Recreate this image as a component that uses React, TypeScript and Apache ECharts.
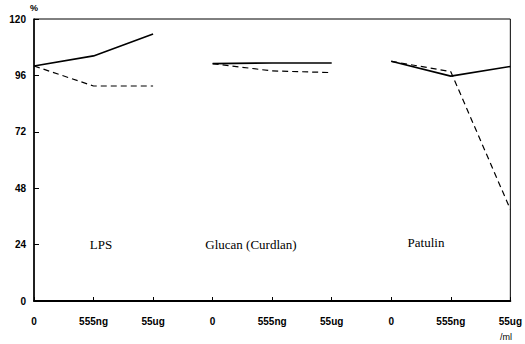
import React, { useEffect, useRef } from "react";
import * as echarts from "echarts";

const categories = ["0", "555ng", "55ug", "0 ", "555ng ", "55ug ", "0  ", "555ng  ", "55ug  "];
const yTicks = [0, 24, 48, 72, 96, 120];
const lpsSolid = [100, 104.3, 113.6, null, null, null, null, null, null];
const lpsDashed = [100, 91.5, 91.5, null, null, null, null, null, null];
const glucanSolid = [null, null, null, 101, 101.3, 101.3, null, null, null];
const glucanDashed = [null, null, null, 101, 97.9, 97.2, null, null, null];
const patulinSolid = [null, null, null, null, null, null, 102, 95.7, 99.8];
const patulinDashed = [null, null, null, null, null, null, 102, 97.6, 39];
const groupLabels = ["LPS", "Glucan (Curdlan)", "Patulin"];

export default function App() {
  const ref = useRef<HTMLDivElement>(null);
  useEffect(() => {
    if (!ref.current) return;
    const chart = echarts.init(ref.current, null, { renderer: "svg" });
    const mk = (data: (number | null)[], dashed: boolean) => ({
      type: "line",
      data,
      symbol: "none",
      connectNulls: false,
      lineStyle: { color: "#000", width: dashed ? 1.2 : 1.6, type: dashed ? [6, 4] : "solid" },
      silent: true,
    });
    chart.setOption({
      animation: false,
      backgroundColor: "#fff",
      grid: { left: 34, right: 13, top: 19, bottom: 43, show: true, borderColor: "#000", borderWidth: 1 },
      xAxis: {
        type: "category",
        data: categories,
        boundaryGap: false,
        axisLine: { lineStyle: { color: "#000", width: 2 } },
        axisTick: { inside: true, length: 4, lineStyle: { color: "#000" } },
        axisLabel: {
          color: "#000",
          fontFamily: "Liberation Sans",
          fontSize: 10,
          fontWeight: "bold",
          margin: 15,
          formatter: (v: string) => v.trim(),
        },
        splitLine: { show: false },
      },
      yAxis: {
        type: "value",
        min: 0,
        max: 120,
        interval: 24,
        axisLine: { show: true, lineStyle: { color: "#000", width: 1.5 } },
        axisTick: { show: true, inside: true, length: 5, lineStyle: { color: "#000" } },
        axisLabel: { color: "#000", fontFamily: "Liberation Sans", fontSize: 10, fontWeight: "bold", margin: 8,
          formatter: (v: number) => (yTicks.includes(v) ? String(v) : "") },
        splitLine: { show: false },
      },
      series: [
        mk(lpsSolid, false),
        mk(lpsDashed, true),
        mk(glucanSolid, false),
        mk(glucanDashed, true),
        mk(patulinSolid, false),
        mk(patulinDashed, true),
      ],
      graphic: [
        { type: "text", left: 30, top: 3, style: { text: "%", font: "bold 9px Liberation Sans", fill: "#000" } },
        { type: "text", left: 500, top: 332, style: { text: "/ml", font: "9px Liberation Sans", fill: "#000" } },
        { type: "text", x: 101, y: 244, style: { text: groupLabels[0], font: "13px Liberation Serif", fill: "#000", align: "center", verticalAlign: "middle" } },
        { type: "text", x: 251, y: 244, style: { text: groupLabels[1], font: "13px Liberation Serif", fill: "#000", align: "center", verticalAlign: "middle" } },
        { type: "text", x: 426, y: 242, style: { text: groupLabels[2], font: "13px Liberation Serif", fill: "#000", align: "center", verticalAlign: "middle" } },
      ],
    });
    return () => chart.dispose();
  }, []);
  return <div ref={ref} style={{ width: 525, height: 344, position: "absolute", left: 0, top: 0 }} />;
}
